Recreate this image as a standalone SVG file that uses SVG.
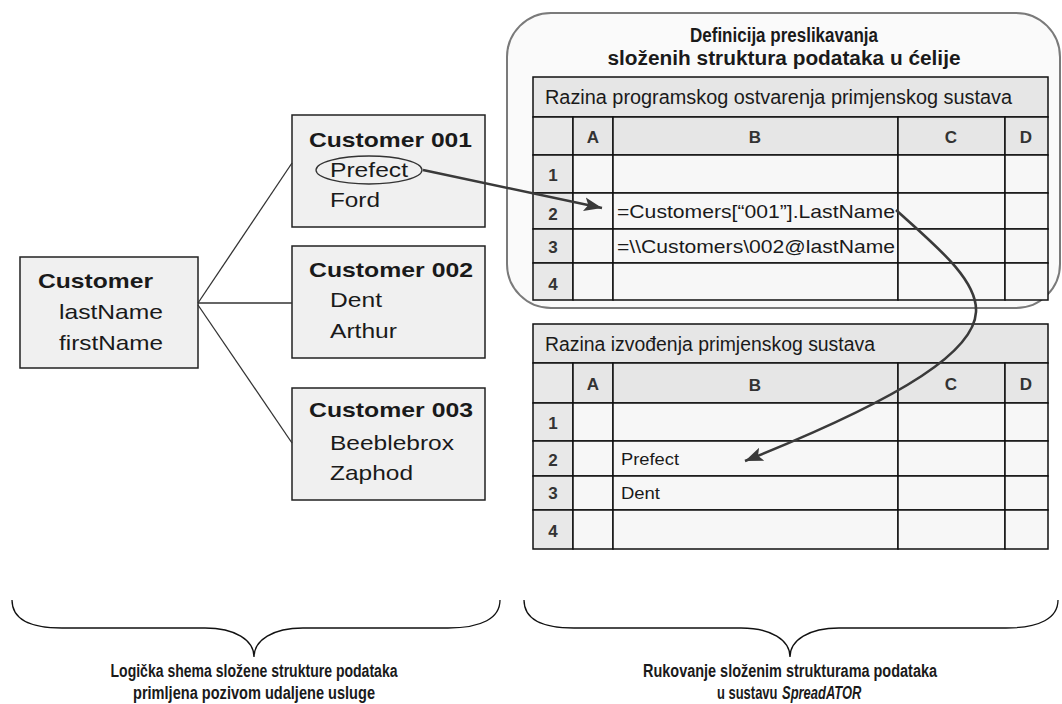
<svg xmlns="http://www.w3.org/2000/svg" width="1062" height="704" viewBox="0 0 1062 704">
<defs>
<style>
text{font-family:"Liberation Sans",Arial,sans-serif;fill:#1a1a1a}
.box{fill:#f0f0f0;stroke:#222;stroke-width:1.5}
.nb{font-size:21px;font-weight:bold}
.nt{font-size:21px}
.hdr{fill:#e6e6e6;stroke:#111;stroke-width:1.5}
.cell{fill:#f7f7f7;stroke:#111;stroke-width:1.5}
.lbl{fill:#e8e8e8;stroke:#111;stroke-width:1.5}
.ch{font-size:17px;font-weight:bold;text-anchor:middle;fill:#333}
.tt{font-size:20px}
.ct{font-size:19px}
.cs{font-size:16px}
.link{fill:none;stroke:#333;stroke-width:1.3}
.arr{fill:none;stroke:#3a3a3a;stroke-width:2.6}
.brace{fill:none;stroke:#111;stroke-width:1.3}
.cap{font-size:18px;font-weight:bold;text-anchor:middle}
.capl{font-size:18px;font-weight:bold}
.ttl{font-size:20px;font-weight:bold;text-anchor:middle}
</style>
<marker id="ah" markerUnits="userSpaceOnUse" markerWidth="20" markerHeight="16" refX="18" refY="8" orient="auto">
<path d="M0,1 L18,8 L0,15 L4,8 Z" fill="#3a3a3a"/>
</marker>
</defs>

<g id="container">
<rect x="507" y="13" width="553" height="295" rx="44" ry="44" fill="#fafafa" stroke="#7a7a7a" stroke-width="2"/>
<text x="784" y="42" class="ttl" textLength="188" lengthAdjust="spacingAndGlyphs">Definicija preslikavanja</text>
<text x="784" y="65" class="ttl" textLength="353" lengthAdjust="spacingAndGlyphs">složenih struktura podataka u ćelije</text>
</g>

<g id="table-top">
<rect x="533" y="77" width="515" height="40" class="hdr"/>
<text x="545" y="104" class="tt" textLength="467" lengthAdjust="spacingAndGlyphs">Razina programskog ostvarenja primjenskog sustava</text>
<rect x="533" y="117" width="40" height="38" class="lbl"/>
<rect x="573" y="117" width="40" height="38" class="hdr"/>
<rect x="613" y="117" width="285" height="38" class="hdr"/>
<rect x="898" y="117" width="107" height="38" class="hdr"/>
<rect x="1005" y="117" width="43" height="38" class="hdr"/>
<text x="593" y="143" class="ch">A</text>
<text x="755" y="143" class="ch">B</text>
<text x="951" y="143" class="ch">C</text>
<text x="1026" y="143" class="ch">D</text>
<rect x="533" y="155" width="40" height="38" class="lbl"/>
<rect x="533" y="193" width="40" height="36" class="lbl"/>
<rect x="533" y="229" width="40" height="34" class="lbl"/>
<rect x="533" y="263" width="40" height="37" class="lbl"/>
<text x="553" y="181" class="ch">1</text>
<text x="553" y="220" class="ch">2</text>
<text x="553" y="253" class="ch">3</text>
<text x="553" y="290" class="ch">4</text>
<g>
<rect x="573" y="155" width="40" height="38" class="cell"/><rect x="613" y="155" width="285" height="38" class="cell"/><rect x="898" y="155" width="107" height="38" class="cell"/><rect x="1005" y="155" width="43" height="38" class="cell"/>
<rect x="573" y="193" width="40" height="36" class="cell"/><rect x="613" y="193" width="285" height="36" class="cell"/><rect x="898" y="193" width="107" height="36" class="cell"/><rect x="1005" y="193" width="43" height="36" class="cell"/>
<rect x="573" y="229" width="40" height="34" class="cell"/><rect x="613" y="229" width="285" height="34" class="cell"/><rect x="898" y="229" width="107" height="34" class="cell"/><rect x="1005" y="229" width="43" height="34" class="cell"/>
<rect x="573" y="263" width="40" height="37" class="cell"/><rect x="613" y="263" width="285" height="37" class="cell"/><rect x="898" y="263" width="107" height="37" class="cell"/><rect x="1005" y="263" width="43" height="37" class="cell"/>
</g>
<text x="617" y="218" class="ct" textLength="278" lengthAdjust="spacingAndGlyphs">=Customers[“001”].LastName</text>
<text x="617" y="253" class="ct" textLength="278" lengthAdjust="spacingAndGlyphs">=\\Customers\002@lastName</text>
</g>

<g id="table-bottom">
<rect x="533" y="324" width="515" height="39" class="hdr"/>
<text x="545" y="351" class="tt" textLength="330" lengthAdjust="spacingAndGlyphs">Razina izvođenja primjenskog sustava</text>
<rect x="533" y="363" width="40" height="40" class="lbl"/>
<rect x="573" y="363" width="40" height="40" class="hdr"/>
<rect x="613" y="363" width="285" height="40" class="hdr"/>
<rect x="898" y="363" width="107" height="40" class="hdr"/>
<rect x="1005" y="363" width="43" height="40" class="hdr"/>
<text x="593" y="390" class="ch">A</text>
<text x="755" y="391" class="ch">B</text>
<text x="951" y="390" class="ch">C</text>
<text x="1026" y="390" class="ch">D</text>
<rect x="533" y="403" width="40" height="38" class="lbl"/>
<rect x="533" y="441" width="40" height="35" class="lbl"/>
<rect x="533" y="476" width="40" height="34" class="lbl"/>
<rect x="533" y="510" width="40" height="39" class="lbl"/>
<text x="553" y="429" class="ch">1</text>
<text x="553" y="466" class="ch">2</text>
<text x="553" y="499" class="ch">3</text>
<text x="553" y="537" class="ch">4</text>
<g>
<rect x="573" y="403" width="40" height="38" class="cell"/><rect x="613" y="403" width="285" height="38" class="cell"/><rect x="898" y="403" width="107" height="38" class="cell"/><rect x="1005" y="403" width="43" height="38" class="cell"/>
<rect x="573" y="441" width="40" height="35" class="cell"/><rect x="613" y="441" width="285" height="35" class="cell"/><rect x="898" y="441" width="107" height="35" class="cell"/><rect x="1005" y="441" width="43" height="35" class="cell"/>
<rect x="573" y="476" width="40" height="34" class="cell"/><rect x="613" y="476" width="285" height="34" class="cell"/><rect x="898" y="476" width="107" height="34" class="cell"/><rect x="1005" y="476" width="43" height="34" class="cell"/>
<rect x="573" y="510" width="40" height="39" class="cell"/><rect x="613" y="510" width="285" height="39" class="cell"/><rect x="898" y="510" width="107" height="39" class="cell"/><rect x="1005" y="510" width="43" height="39" class="cell"/>
</g>
<text x="621" y="465" class="cs" textLength="58" lengthAdjust="spacingAndGlyphs">Prefect</text>
<text x="621" y="499" class="cs" textLength="39" lengthAdjust="spacingAndGlyphs">Dent</text>
</g>

<g id="customer">
<rect x="20" y="257" width="178" height="111" class="box"/>
<text x="38" y="288" class="nb" textLength="115" lengthAdjust="spacingAndGlyphs">Customer</text>
<text x="59" y="319" class="nt" textLength="104" lengthAdjust="spacingAndGlyphs">lastName</text>
<text x="59" y="350" class="nt" textLength="104" lengthAdjust="spacingAndGlyphs">firstName</text>
</g>

<g id="customer001">
<rect x="292" y="115" width="193" height="112" class="box"/>
<text x="309" y="147" class="nb" textLength="163" lengthAdjust="spacingAndGlyphs">Customer 001</text>
<ellipse cx="369" cy="170" rx="53" ry="14" fill="none" stroke="#333" stroke-width="1.3"/>
<text x="330" y="177" class="nt" textLength="78" lengthAdjust="spacingAndGlyphs">Prefect</text>
<text x="330" y="207" class="nt" textLength="50" lengthAdjust="spacingAndGlyphs">Ford</text>
</g>

<g id="customer002">
<rect x="292" y="246" width="193" height="112" class="box"/>
<text x="309" y="277" class="nb" textLength="164" lengthAdjust="spacingAndGlyphs">Customer 002</text>
<text x="330" y="307" class="nt" textLength="52" lengthAdjust="spacingAndGlyphs">Dent</text>
<text x="330" y="338" class="nt" textLength="67" lengthAdjust="spacingAndGlyphs">Arthur</text>
</g>

<g id="customer003">
<rect x="292" y="388" width="193" height="112" class="box"/>
<text x="309" y="417" class="nb" textLength="164" lengthAdjust="spacingAndGlyphs">Customer 003</text>
<text x="330" y="450" class="nt" textLength="124" lengthAdjust="spacingAndGlyphs">Beeblebrox</text>
<text x="330" y="480" class="nt" textLength="83" lengthAdjust="spacingAndGlyphs">Zaphod</text>
</g>

<g id="connectors">
<path class="link" d="M198,303 L292,163"/>
<path class="link" d="M198,303 L292,303"/>
<path class="link" d="M198,305 L292,443"/>
<path class="arr" d="M423,170 L602,208" marker-end="url(#ah)"/>
<path class="arr" d="M896,210 C935,245 978,280 976,312 C974,350 910,395 745,461" marker-end="url(#ah)"/>
</g>

<g id="braces">
<path class="brace" d="M12,600 C12,618 28,628 62,628 L205,628 C235,628 254,640 254,657 C254,640 273,628 303,628 L448,628 C482,628 500,618 500,600"/>
<path class="brace" d="M524,600 C524,618 540,628 574,628 L741,628 C771,628 790,640 790,657 C790,640 809,628 839,628 L1006,628 C1040,628 1058,618 1058,600"/>
</g>

<g id="captions">
<text x="254" y="677" class="cap" textLength="287" lengthAdjust="spacingAndGlyphs">Logička shema složene strukture podataka</text>
<text x="254" y="699" class="cap" textLength="242" lengthAdjust="spacingAndGlyphs">primljena pozivom udaljene usluge</text>
<text x="790" y="677" class="cap" textLength="294" lengthAdjust="spacingAndGlyphs">Rukovanje složenim strukturama podataka</text>
<text transform="translate(717,699) scale(0.72,1)" class="capl">u sustavu</text>
<text transform="translate(782,699) scale(0.72,1)" class="capl" font-style="italic">SpreadATOR</text>
</g>
</svg>
